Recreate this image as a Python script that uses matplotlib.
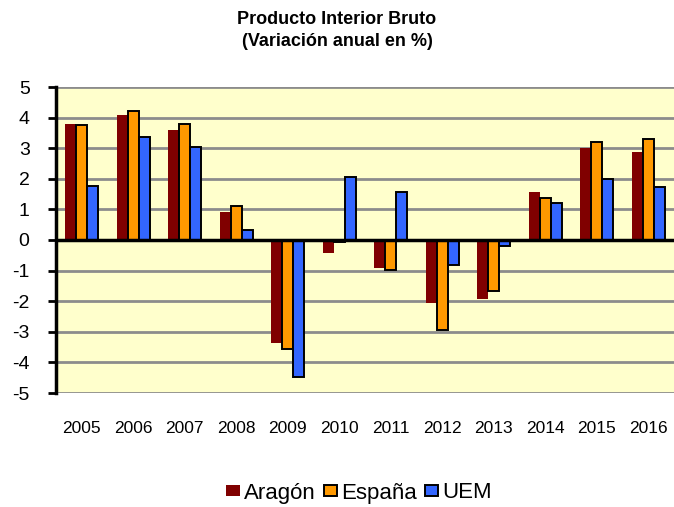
import numpy as np
import matplotlib
matplotlib.use("Agg")
import matplotlib.pyplot as plt

plt.rcParams['font.family'] = ['Liberation Sans', 'DejaVu Sans']
plt.rcParams['axes.unicode_minus'] = False

years = ['2005', '2006', '2007', '2008', '2009', '2010',
         '2011', '2012', '2013', '2014', '2015', '2016']
aragon = [3.8, 4.1, 3.6, 0.9, -3.35, -0.42, -0.93, -2.05, -1.92, 1.56, 3.0, 2.88]
espana = [3.75, 4.2, 3.8, 1.1, -3.57, -0.05, -0.97, -2.93, -1.68, 1.38, 3.2, 3.3]
uem = [1.78, 3.35, 3.03, 0.33, -4.48, 2.05, 1.58, -0.83, -0.2, 1.2, 1.98, 1.72]

fig = plt.figure(figsize=(6.74, 5.07), dpi=100)
ax = fig.add_axes([56 / 674, 1 - 393 / 507, 618 / 674, 306 / 507])
ax.set_facecolor('#ffffcc')

x = np.arange(len(years))
w = 0.215
ax.bar(x - w, aragon, w, color='#800000', label='Aragón', zorder=3)
ax.bar(x, espana, w, color='#ff9900', edgecolor='black', linewidth=1.4,
       label='España', zorder=3)
ax.bar(x + w, uem, w, color='#3366ff', edgecolor='black', linewidth=1.4,
       label='UEM', zorder=3)

ax.set_xlim(-0.5, len(years) - 0.5)
ax.set_ylim(-5, 5)
ax.set_yticks(range(-5, 6))
for v in range(-5, 6):
    if v != 0:
        ax.axhline(v, color='#8c8c8c', linewidth=2, zorder=1)
ax.axhline(0, color='black', linewidth=2.5, zorder=4)

for s in ['top', 'right', 'bottom']:
    ax.spines[s].set_visible(False)
ax.spines['left'].set_linewidth(2.5)
ax.spines['left'].set_zorder(5)

ax.tick_params(axis='y', length=6, width=2, labelsize=14, pad=13)
ax.tick_params(axis='x', length=0, labelsize=12.5, pad=20)
ax.set_xticks(x)
ax.set_xticklabels(years)

fig.text(0.5, 1 - 19 / 507, 'Producto Interior Bruto', ha='center', va='center',
         fontsize=13, fontweight='bold')
fig.text(0.5, 1 - 41 / 507, '(Variación anual en %)', ha='center', va='center',
         fontsize=13, fontweight='bold')

fig.legend(loc='center', bbox_to_anchor=(0.533, 1 - 493 / 507), ncol=3,
           frameon=False, fontsize=16, handlelength=0.6, handleheight=0.42,
           handletextpad=0.2, columnspacing=0.35, borderpad=0)

fig.savefig('out.png', dpi=100)
